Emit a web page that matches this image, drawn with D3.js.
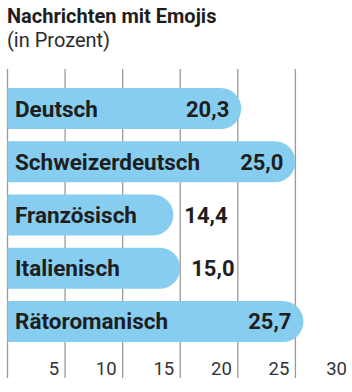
<!DOCTYPE html>
<html lang="de">
<head>
    <meta charset="UTF-8">
    <title>Nachrichten mit Emojis</title>
    <script src="https://d3js.org/d3.v7.min.js"></script>
    <style>
        body {
            margin: 0;
            background: #fff;
        }
        svg {
            font-family: Roboto, "Open Sans", sans-serif;
        }
    </style>
</head>
<body>
    <script>
        // Data
        const languages = ["Deutsch", "Schweizerdeutsch", "Französisch", "Italienisch", "Rätoromanisch"];
        const shares = [20.3, 25.0, 14.4, 15.0, 25.7];
        const labelsInside = [true, true, false, false, true];
        const tickValues = [5, 10, 15, 20, 25, 30];

        const width = 352, height = 392;

        const svg = d3.select("body")
            .append("svg")
            .attr("width", width)
            .attr("height", height);

        const x = d3.scaleLinear().domain([0, 30]).range([7.5, 353]);
        const y = d3.scaleBand().domain(languages).range([88, 342]).paddingInner(0.23);

        const fmt = v => d3.format(".1f")(v).replace(".", ",");

        // Title
        svg.append("text")
            .attr("x", 7)
            .attr("y", 23)
            .attr("font-size", "20px")
            .attr("font-weight", "bold")
            .attr("fill", "#1e1e1e")
            .text("Nachrichten mit Emojis");
        svg.append("text")
            .attr("x", 7)
            .attr("y", 47)
            .attr("font-size", "20px")
            .attr("fill", "#2a2a2a")
            .text("(in Prozent)");

        // Gridlines
        svg.append("g")
            .selectAll("line")
            .data([0].concat(tickValues))
            .join("line")
            .attr("x1", d => x(d))
            .attr("x2", d => x(d))
            .attr("y1", 69)
            .attr("y2", 378)
            .attr("stroke", "#9a9a9a")
            .attr("stroke-width", 1.3);

        // Tick labels
        svg.append("g")
            .selectAll("text")
            .data(tickValues)
            .join("text")
            .attr("x", d => x(d) - 6)
            .attr("y", 375)
            .attr("text-anchor", "end")
            .attr("font-size", "18.5px")
            .attr("fill", "#333")
            .text(d => d);

        // Bars with rounded right end
        const bh = y.bandwidth();
        const r = bh / 2;
        const barPath = (v, lang) => {
            const x0 = x(0), x1 = x(v), y0 = y(lang);
            return `M${x0},${y0} H${x1 - r} A${r},${r} 0 0 1 ${x1 - r},${y0 + bh} H${x0} Z`;
        };

        const rows = languages.map((lang, i) => ({ lang, value: shares[i], inside: labelsInside[i] }));

        svg.append("g")
            .selectAll("path")
            .data(rows)
            .join("path")
            .attr("d", d => barPath(d.value, d.lang))
            .attr("fill", "#86cdf0");

        // Category labels
        svg.append("g")
            .selectAll("text")
            .data(rows)
            .join("text")
            .attr("x", 15)
            .attr("y", d => y(d.lang) + bh / 2 + 8)
            .attr("font-size", "22.5px")
            .attr("font-weight", "bold")
            .attr("fill", "#1e1e1e")
            .text(d => d.lang);

        // Value labels
        svg.append("g")
            .selectAll("text")
            .data(rows)
            .join("text")
            .attr("x", d => d.inside ? x(d.value) - 12 : x(d.value) + 11)
            .attr("y", d => y(d.lang) + bh / 2 + 8)
            .attr("text-anchor", d => d.inside ? "end" : "start")
            .attr("font-size", "22px")
            .attr("font-weight", "bold")
            .attr("fill", "#1e1e1e")
            .text(d => fmt(d.value));
    </script>
</body>
</html>
